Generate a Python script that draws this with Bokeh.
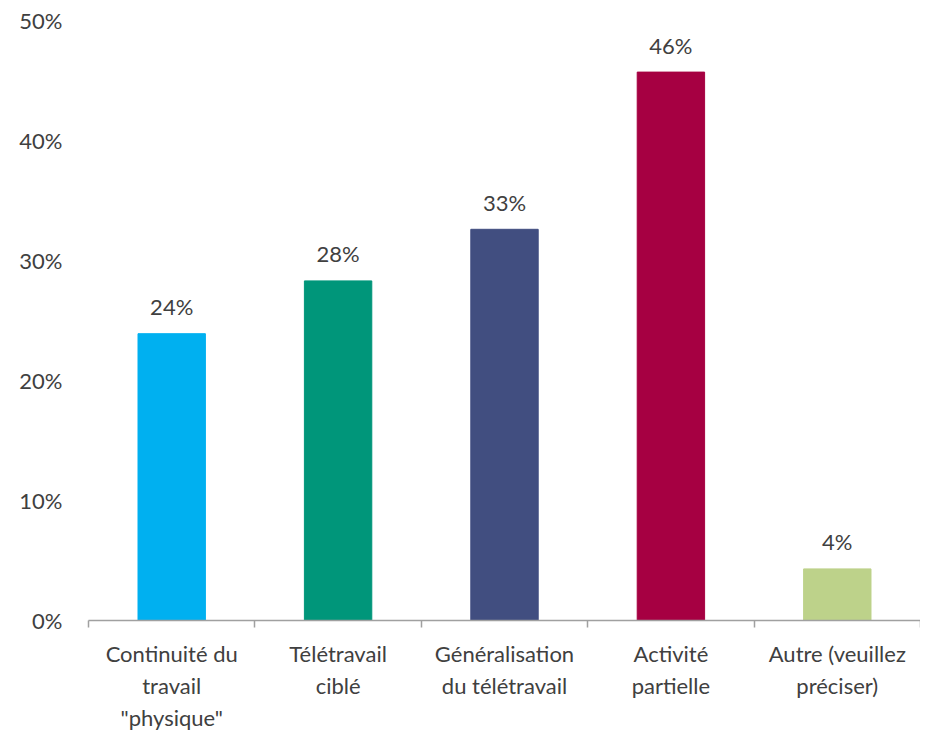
from bokeh.plotting import figure
from bokeh.models import ColumnDataSource, FixedTicker, LinearAxis
from bokeh.embed import file_html
from bokeh.resources import INLINE
from bokeh.core.properties import value

categories = ["Continuité du\ntravail\n\"physique\"", "Télétravail\nciblé",
              "Généralisation\ndu télétravail", "Activité\npartielle",
              "Autre (veuillez\npréciser)"]
values = [23.9, 28.3, 32.6, 45.7, 4.3]
labels = ["24%", "28%", "33%", "46%", "4%"]
colors = ["#00B0F0", "#00967A", "#414E80", "#A60042", "#BDD28A"]
y_ticks = [0, 10, 20, 30, 40, 50]
y_tick_labels = ["0%", "10%", "20%", "30%", "40%", "50%"]

FONT = "Lato"
TXT = "#404040"

xs = [i + 0.5 for i in range(len(categories))]
src = ColumnDataSource(dict(x=xs, top=values, color=colors, label=labels))

p = figure(width=920, height=734, x_range=(0, len(categories)), y_range=(0, 50),
           output_backend="svg", toolbar_location=None,
           min_border_left=88, min_border_right=0, min_border_top=20, min_border_bottom=112,
           x_axis_type=None, y_axis_type=None)
p.outline_line_color = None
p.xgrid.visible = False
p.ygrid.visible = False

p.vbar(x="x", top="top", width=0.405, bottom=0, color="color", source=src)
p.text(x="x", y="top", text="label", source=src, text_align="center",
       text_baseline="alphabetic", y_offset=-27, text_font=value(FONT),
       text_font_size="22px", text_color=TXT)

yaxis = LinearAxis(ticker=FixedTicker(ticks=y_ticks),
                   major_label_overrides={t: l for t, l in zip(y_ticks, y_tick_labels)})
yaxis.axis_line_color = None
yaxis.major_tick_line_color = None
yaxis.minor_tick_line_color = None
yaxis.major_tick_out = 0
yaxis.major_tick_in = 0
yaxis.major_label_standoff = 26
yaxis.major_label_text_font = FONT
yaxis.major_label_text_font_size = "22px"
yaxis.major_label_text_color = TXT
p.add_layout(yaxis, "left")

xaxis = LinearAxis(ticker=FixedTicker(ticks=xs, minor_ticks=list(range(len(categories) + 1))),
                   major_label_overrides={x: c for x, c in zip(xs, categories)})
xaxis.axis_line_color = "#A0A0A0"
xaxis.axis_line_width = 1.5
xaxis.major_tick_line_color = None
xaxis.major_tick_out = 0
xaxis.major_tick_in = 0
xaxis.minor_tick_line_color = "#A0A0A0"
xaxis.minor_tick_line_width = 1.5
xaxis.minor_tick_out = 7
xaxis.minor_tick_in = 0
xaxis.major_label_standoff = 12
xaxis.major_label_text_font = FONT
xaxis.major_label_text_font_size = "22px"
xaxis.major_label_text_color = TXT
p.add_layout(xaxis, "below")

open("out.html", "w").write(file_html(p, INLINE))
